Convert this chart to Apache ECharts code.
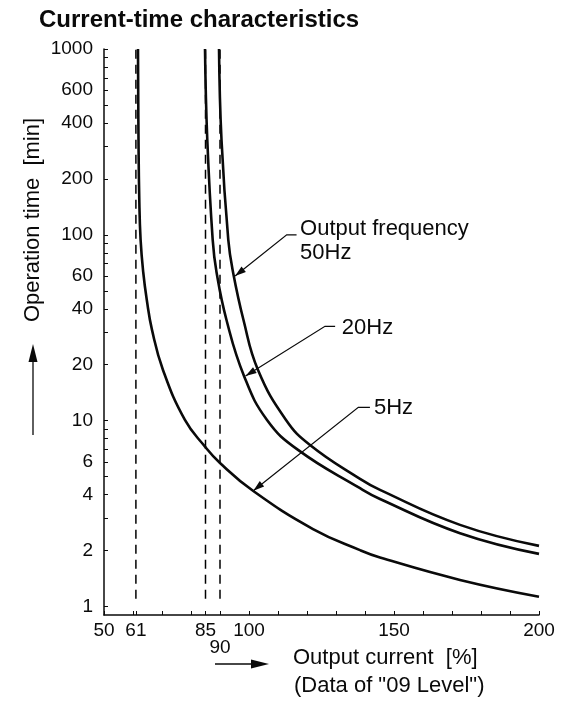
<!DOCTYPE html>
<html><head><meta charset="utf-8">
<script src="https://cdn.jsdelivr.net/npm/echarts@6/dist/echarts.min.js"></script>
<style>html,body{margin:0;padding:0;background:#fff}#c{width:570px;height:711px}</style>
</head><body><div id="c"></div>
<script>
const FONT = "'Liberation Sans', Arial, Helvetica, sans-serif";
const INK = '#0a0a0a';

// axis ticks / labels
const xTickLabels = [50, 61, 85, 90, 100, 150, 200];
const xTicks = [50, 60, 61, 70, 80, 85, 90, 100, 110, 120, 130, 140, 150, 160, 170, 180, 190, 200];
const yTickLabels = [1, 2, 4, 6, 10, 20, 40, 60, 100, 200, 400, 600, 1000];
const yTicks = [1, 2, 3, 4, 5, 6, 7, 8, 9, 10, 20, 30, 40, 50, 60, 70, 80, 90,
                100, 200, 300, 400, 500, 600, 700, 800, 900, 1000];

// dashed limit lines (output current %)
const limitCurrents = [61, 85, 90];
const limitTimeRange = [1.1, 1000];

// curves: output current [%] vs operation time [min]
const current5 = [61.72, 61.9, 62.17, 62.62, 63.52, 64.76, 66.55, 70.34, 77.9, 84.83, 90, 101.48, 122.07, 138.28, 145.17, 172.76, 200];
const time5    = [1000, 324, 154, 93.9, 63.1, 44.6, 30.8, 18.75, 10.09, 7.25, 5.92, 4.18, 2.61, 2.01, 1.835, 1.39, 1.129];

const current20 = [84.83, 85.62, 87.48, 88.79, 92.24, 98.28, 106.21, 116.9, 138.28, 145.17, 172.76, 200];
const time20    = [1000, 324, 93.9, 63.1, 34.8, 17.4, 10.09, 6.96, 4.33, 3.79, 2.48, 1.92];

const current50 = [89.66, 90.52, 92.86, 94.48, 98.1, 103.1, 112.76, 121.03, 138.28, 145.17, 172.76, 200];
const time50    = [1000, 324, 93.9, 63.1, 34.8, 18.75, 10.09, 7.40, 4.86, 4.24, 2.75, 2.12];

// annotations (data coordinates)
const annotations = [
  { text: 'Output frequency\n50Hz', textAt: [117.6, 92.7], from: [116.4, 100], bend: [113, 100], tip: [95.2, 60] },
  { text: '20Hz', textAt: [132, 31.7], from: [129.7, 32.2], bend: [126.2, 32.2], tip: [98.8, 17.4] },
  { text: '5Hz', textAt: [143.1, 11.75], from: [141.7, 11.8], bend: [137.7, 11.8], tip: [101.5, 4.2] }
];

const zip = (a, b) => a.map((v, i) => [v, b[i]]);

const chart = echarts.init(document.getElementById('c'), null, { renderer: 'canvas' });

const curveStyle = { color: INK, width: 2.6 };
const series = [];
limitCurrents.forEach(c => {
  series.push({
    type: 'line', data: [[c, limitTimeRange[0]], [c, limitTimeRange[1]]],
    symbol: 'none', silent: true,
    lineStyle: { color: '#000', width: 1.5, type: [9, 6] }
  });
});
[[current5, time5], [current20, time20], [current50, time50]].forEach(([c, t]) => {
  series.push({
    type: 'line', data: zip(c, t), symbol: 'none', smooth: 0.45, silent: true,
    lineStyle: curveStyle
  });
});

chart.setOption({
  animation: false,
  backgroundColor: '#fff',
  textStyle: { fontFamily: FONT },
  grid: { left: 104, right: 31, top: 49, bottom: 96, containLabel: false },
  xAxis: {
    type: 'value', min: 50, max: 200,
    axisLine: { lineStyle: { color: INK, width: 1.5 } },
    axisTick: { inside: true, length: 4, customValues: xTicks, lineStyle: { color: INK, width: 1 } },
    splitLine: { show: false },
    axisLabel: {
      customValues: xTickLabels, color: INK, fontSize: 19, fontFamily: FONT, margin: 7,
      lineHeight: 17,
      formatter: v => (v === 90 ? '\n90' : String(v))
    }
  },
  yAxis: {
    type: 'log', logBase: 10, min: 0.9, max: 1000,
    axisLine: { show: true, lineStyle: { color: INK, width: 1.5 } },
    axisTick: { show: true, inside: true, length: 4, customValues: yTicks, lineStyle: { color: INK, width: 1 } },
    splitLine: { show: false },
    minorTick: { show: false },
    axisLabel: {
      customValues: yTickLabels, color: INK, fontSize: 19, fontFamily: FONT, margin: 11,
      formatter: v => String(Math.round(v))
    }
  },
  series: series
});

const px = p => chart.convertToPixel({ gridIndex: 0 }, p);

function arrowHead(tip, from, len, half) {
  const dx = tip[0] - from[0], dy = tip[1] - from[1];
  const d = Math.hypot(dx, dy) || 1;
  const ux = dx / d, uy = dy / d;
  const bx = tip[0] - ux * len, by = tip[1] - uy * len;
  return [tip, [bx - uy * half, by + ux * half], [bx + uy * half, by - ux * half]];
}

const graphics = [];
annotations.forEach(a => {
  const f = px(a.from), b = px(a.bend), t = px(a.tip), ta = px(a.textAt);
  graphics.push({ type: 'polyline', silent: true, shape: { points: [f, b, t] },
    style: { stroke: INK, lineWidth: 1.2, fill: null } });
  graphics.push({ type: 'polygon', silent: true, shape: { points: arrowHead(t, b, 11, 3.5) },
    style: { fill: INK } });
  graphics.push({ type: 'text', silent: true, x: ta[0], y: ta[1],
    style: { text: a.text, font: '22px ' + FONT, fill: INK, align: 'left', verticalAlign: 'middle', lineHeight: 24 } });
});

// title
graphics.push({ type: 'text', silent: true, x: 39, y: 20,
  style: { text: 'Current-time characteristics', font: 'bold 24px ' + FONT, fill: INK, align: 'left', verticalAlign: 'middle' } });

// y axis name with arrow
graphics.push({ type: 'text', silent: true, x: 33, y: 220, rotation: Math.PI / 2,
  style: { text: 'Operation time  [min]', font: '22px ' + FONT, fill: INK, align: 'center', verticalAlign: 'middle' } });
graphics.push({ type: 'line', silent: true, shape: { x1: 33, y1: 435, x2: 33, y2: 358 }, style: { stroke: INK, lineWidth: 1.3 } });
graphics.push({ type: 'polygon', silent: true, shape: { points: [[33, 344], [28.5, 362], [37.5, 362]] }, style: { fill: INK } });

// x axis name with arrow
graphics.push({ type: 'line', silent: true, shape: { x1: 215, y1: 664, x2: 254, y2: 664 }, style: { stroke: INK, lineWidth: 1.3 } });
graphics.push({ type: 'polygon', silent: true, shape: { points: [[269, 664], [251, 659.5], [251, 668.5]] }, style: { fill: INK } });
graphics.push({ type: 'text', silent: true, x: 293, y: 658,
  style: { text: 'Output current  [%]', font: '22px ' + FONT, fill: INK, align: 'left', verticalAlign: 'middle' } });
graphics.push({ type: 'text', silent: true, x: 294, y: 686,
  style: { text: '(Data of "09 Level")', font: '22px ' + FONT, fill: INK, align: 'left', verticalAlign: 'middle' } });

chart.setOption({ graphic: graphics });
</script>
</body></html>
